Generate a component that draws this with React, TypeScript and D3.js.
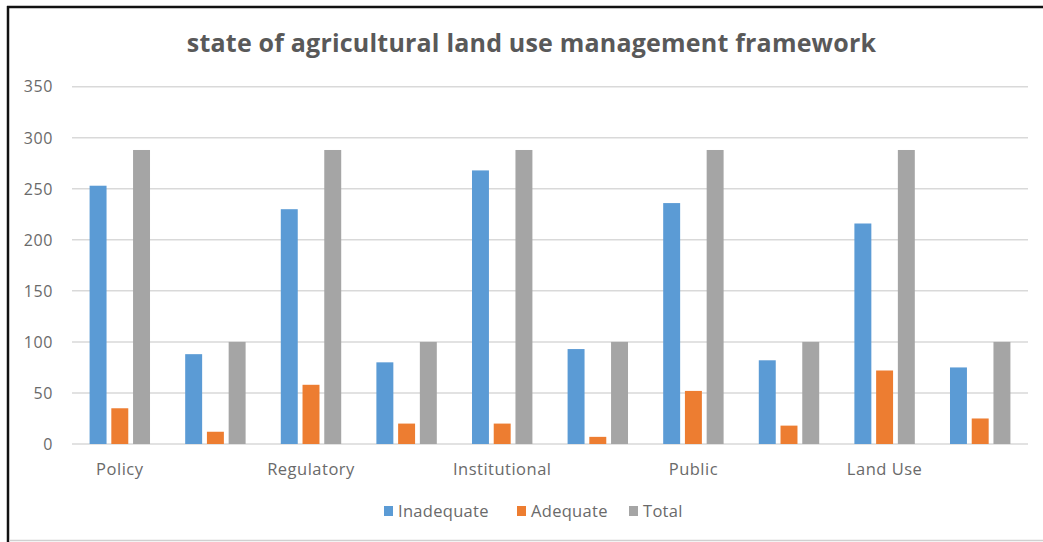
import React from "react";
import * as d3 from "d3";

const categories = ["Policy", "", "Regulatory", "", "Institutional", "", "Public", "", "Land Use", ""];
const inadequate = [253, 88, 230, 80, 268, 93, 236, 82, 216, 75];
const adequate = [35, 12, 58, 20, 20, 7, 52, 18, 72, 25];
const total = [288, 100, 288, 100, 288, 100, 288, 100, 288, 100];
const seriesNames = ["Inadequate", "Adequate", "Total"];
const seriesColors = ["#5B9BD5", "#ED7D31", "#A5A5A5"];
const yTicks = [0, 50, 100, 150, 200, 250, 300, 350];
const title = "state of agricultural land use management framework";

const W = 1043;
const H = 542;
const plot = { left: 72, right: 1028, top: 86.7, bottom: 444 };
const FONT = "'Open Sans', 'DejaVu Sans', sans-serif";

export default function App() {
  const seriesValues = [inadequate, adequate, total];
  const idx = categories.map((_, i) => String(i));

  const y = d3.scaleLinear().domain([0, 350]).range([plot.bottom, plot.top]);
  const x0 = d3
    .scaleBand<string>()
    .domain(idx)
    .range([plot.left, plot.right])
    .paddingInner(0.368)
    .paddingOuter(0.184);
  const x1 = d3
    .scaleBand<string>()
    .domain(seriesNames)
    .range([0, x0.bandwidth()])
    .paddingInner(0.22)
    .paddingOuter(0);

  const legendItems = [
    { name: "Inadequate", x: 384 },
    { name: "Adequate", x: 517 },
    { name: "Total", x: 629 },
  ];

  return (
    <svg
      width={W}
      height={H}
      style={{ position: "absolute", left: 0, top: 0, background: "#fff" }}
    >
      <rect x={0} y={0} width={W} height={H} fill="#fff" />
      {/* frame */}
      <line x1={7} x2={W} y1={7} y2={7} stroke="#111" strokeWidth={2.5} />
      <line x1={8} x2={8} y1={6} y2={H} stroke="#111" strokeWidth={2.5} />
      <line x1={9} x2={W} y1={540.5} y2={540.5} stroke="#d0d0d0" strokeWidth={1.5} />

      <text
        x={531.5}
        y={52}
        textAnchor="middle"
        fontFamily={FONT}
        fontWeight={700}
        fontSize={25}
        letterSpacing={0.2}
        fill="#595959"
      >
        {title}
      </text>

      {/* gridlines and y labels */}
      {yTicks.map((t) => (
        <g key={t}>
          <line
            x1={plot.left}
            x2={plot.right}
            y1={y(t)}
            y2={y(t)}
            stroke="#d9d9d9"
            strokeWidth={1.5}
          />
          <text
            x={53}
            y={y(t)}
            dy="0.36em"
            textAnchor="end"
            fontFamily={FONT}
            fontSize={16}
            letterSpacing={0.6}
            fill="#6a6a6a"
          >
            {t}
          </text>
        </g>
      ))}

      {/* bars */}
      {idx.map((k, i) => (
        <g key={k} transform={`translate(${x0(k)},0)`}>
          {seriesNames.map((s, j) => {
            const v = seriesValues[j][i];
            return (
              <rect
                key={s}
                x={x1(s)}
                y={y(v)}
                width={x1.bandwidth()}
                height={y(0) - y(v)}
                fill={seriesColors[j]}
              />
            );
          })}
        </g>
      ))}

      {/* category labels */}
      {idx.map((k, i) =>
        categories[i] ? (
          <text
            key={k}
            x={(x0(k) as number) + x0.bandwidth() / 2}
            y={475}
            textAnchor="middle"
            fontFamily={FONT}
            fontSize={16.5}
            letterSpacing={0.5}
            fill="#6a6a6a"
          >
            {categories[i]}
          </text>
        ) : null
      )}

      {/* legend */}
      {legendItems.map((it, j) => (
        <g key={it.name}>
          <rect x={it.x} y={506} width={9} height={10} fill={seriesColors[j]} />
          <text
            x={it.x + 14}
            y={517}
            fontFamily={FONT}
            fontSize={16.5}
            letterSpacing={0.3}
            fill="#6a6a6a"
          >
            {it.name}
          </text>
        </g>
      ))}
    </svg>
  );
}
